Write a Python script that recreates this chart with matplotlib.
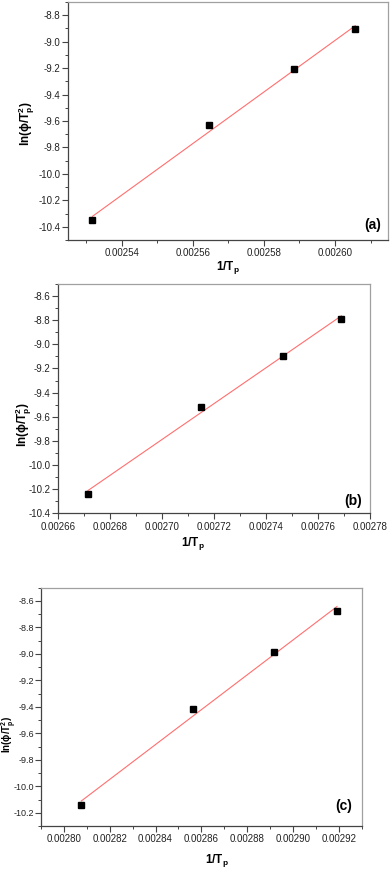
import numpy as np
import matplotlib
matplotlib.use("Agg")
import matplotlib.pyplot as plt
from matplotlib.ticker import MultipleLocator, FormatStrFormatter

plt.rcParams['font.family'] = ['Liberation Sans', 'DejaVu Sans']
plt.rcParams['mathtext.fontset'] = 'custom'
plt.rcParams['mathtext.rm'] = 'Liberation Sans:bold'
plt.rcParams['mathtext.it'] = 'Liberation Sans:bold'
plt.rcParams['mathtext.bf'] = 'Liberation Sans:bold'

# Panel data: x = 1/Tp, y = ln(phi/Tp^2)
x_a = [0.0025318, 0.0025646, 0.0025884, 0.0026057]
y_a = [-10.349, -9.634, -9.210, -8.906]
x_b = [0.0026714, 0.0027149, 0.0027464, 0.0027690]
y_b = [-10.238, -9.521, -9.093, -8.788]
x_c = [0.0028076, 0.0028565, 0.0028918, 0.0029192]
y_c = [-10.145, -9.415, -8.985, -8.679]
labels = ['(a)', '(b)', '(c)']

panels = [
    dict(x=x_a, y=y_a, lab=labels[0], px=(68.3, 388.3, 2.0, 240.0),
         xlim=(0.002525, 0.002615), ylim=(-10.5, -8.7), lx=0.977, ly=0.035,
         xl=(0.50, -0.08), yl=(-0.098, 0.49), yfs=8.5, ytfs=7, ypad=1.5),
    dict(x=x_b, y=y_b, lab=labels[1], px=(58.3, 370.0, 284.0, 513.3),
         xlim=(0.00266, 0.00278), ylim=(-10.4, -8.5), lx=0.974, ly=0.025,
         xl=(0.432, -0.095), yl=(-0.078, 0.385), yfs=8.5, ytfs=7, ypad=1.5),
    dict(x=x_c, y=y_c, lab=labels[2], px=(41.0, 361.7, 587.7, 826.0),
         xlim=(0.00279, 0.00293), ylim=(-10.3, -8.5), lx=0.970, ly=0.055,
         xl=(0.548, -0.109), yl=(-0.0677, 0.386), yfs=7.0, ytfs=6.5, ypad=1.0),
]

W, H = 392, 872
fig = plt.figure(figsize=(W / 100, H / 100), dpi=100)

for p in panels:
    l, r, t, b = p['px']
    ax = fig.add_axes([l / W, 1 - b / H, (r - l) / W, (b - t) / H])
    x = np.array(p['x']); y = np.array(p['y'])
    k, c0 = np.polyfit(x, y, 1)
    xs = np.array([x.min(), x.max()])
    ax.plot(xs, k * xs + c0, color='#ff6f6f', lw=0.8, zorder=2)
    ax.plot(x, y, 's', color='black', ms=4.3, zorder=3)
    ax.set_xlim(*p['xlim'])
    ax.set_ylim(*p['ylim'])
    ax.xaxis.set_major_locator(MultipleLocator(0.00002))
    ax.xaxis.set_minor_locator(MultipleLocator(0.00001))
    ax.yaxis.set_major_locator(MultipleLocator(0.2))
    ax.yaxis.set_minor_locator(MultipleLocator(0.1))
    ax.xaxis.set_major_formatter(FormatStrFormatter('%.5f'))
    ax.yaxis.set_major_formatter(FormatStrFormatter('%.1f'))
    ax.tick_params(which='major', direction='out', length=4, width=0.8,
                   labelsize=7, color='#444444', labelcolor='#222222', pad=2)
    ax.tick_params(axis='y', which='major', pad=p['ypad'], labelsize=p['ytfs'])
    ax.tick_params(which='minor', direction='out', length=2.2, width=0.7, color='#444444')
    for s in ['left', 'bottom']:
        ax.spines[s].set_color('#444444'); ax.spines[s].set_linewidth(0.9)
    for s in ['top', 'right']:
        ax.spines[s].set_color('#a0a0a0'); ax.spines[s].set_linewidth(0.9)
    ax.set_xlabel(r'1/T$_\mathregular{p}$', fontsize=8.5, fontweight='bold')
    ax.set_ylabel(r'ln($\phi$/T$_\mathregular{p}^\mathregular{2}$)', fontsize=p['yfs'],
                  fontweight='bold')
    ax.xaxis.set_label_coords(*p['xl'])
    ax.yaxis.set_label_coords(*p['yl'])
    ax.text(p['lx'], p['ly'], p['lab'], transform=ax.transAxes, ha='right', va='bottom',
            fontsize=10, fontweight='bold')

fig.savefig('out.png', dpi=100)
